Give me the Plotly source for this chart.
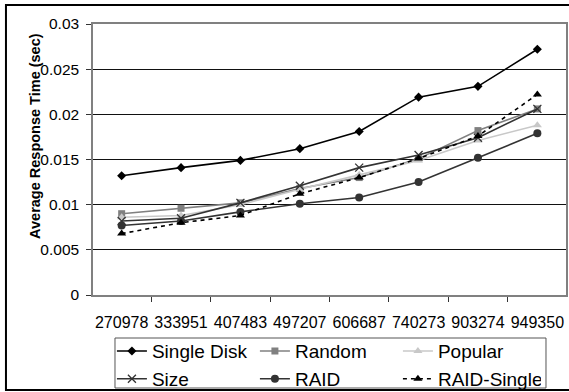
import plotly.graph_objects as go

categories = ["270978", "333951", "407483", "497207", "606687", "740273", "903274", "949350"]

single_disk = [0.0132, 0.0141, 0.0149, 0.0162, 0.0181, 0.0219, 0.0231, 0.0272]
random_vals = [0.0090, 0.0096, 0.0102, 0.0118, 0.0130, 0.0151, 0.0182, 0.0206]
popular = [0.0086, 0.0088, 0.0100, 0.0117, 0.0133, 0.0149, 0.0171, 0.0188]
size_vals = [0.0082, 0.0085, 0.0102, 0.0121, 0.0141, 0.0155, 0.0174, 0.0206]
raid = [0.0077, 0.0082, 0.0092, 0.0101, 0.0108, 0.0125, 0.0152, 0.0179]
raid_single = [0.0068, 0.0080, 0.0088, 0.0112, 0.0130, 0.0151, 0.0176, 0.0222]

y_ticks = [0, 0.005, 0.01, 0.015, 0.02, 0.025, 0.03]
y_tick_labels = ["0", "0.005", "0.01", "0.015", "0.02", "0.025", "0.03"]

FONT = "Liberation Sans, Arial, sans-serif"

fig = go.Figure()

def add(name, vals, color, symbol, msize, dash="solid", mline=None):
    marker = dict(symbol=symbol, size=msize, color=color)
    if mline:
        marker["line"] = mline
    fig.add_trace(go.Scatter(
        x=categories, y=vals, name=name, mode="lines+markers",
        line=dict(color=color, width=1.6, dash=dash),
        marker=marker,
    ))

add("Single Disk", single_disk, "#000000", "diamond", 7)
add("Random", random_vals, "#808080", "square", 7)
add("Popular", popular, "#c8c8c8", "triangle-up", 8)
add("Size", size_vals, "#333333", "x-thin-open", 8, mline=dict(width=1.3, color="#333333"))
add("RAID", raid, "#333333", "circle", 8)
add("RAID-Single", raid_single, "#000000", "triangle-up", 8, dash="4px,4px")

fig.update_layout(
    width=569, height=392,
    margin=dict(l=93, r=3, t=24, b=97, autoexpand=False),
    paper_bgcolor="white", plot_bgcolor="white",
    font=dict(family=FONT, color="black"),
    showlegend=True,
    legend=dict(
        orientation="h", x=0.04, xanchor="left", y=-0.137, yanchor="top",
        entrywidth=98, entrywidthmode="pixels",
        font=dict(size=19, family=FONT),
        borderwidth=0,
        bgcolor="rgba(0,0,0,0)",
        tracegroupgap=0,
    ),
    xaxis=dict(
        type="category", showgrid=False, tickson="boundaries",
        ticks="outside", ticklen=5, tickcolor="#333333",
        showline=True, linecolor="#808080", linewidth=1.5, mirror=True,
        tickfont=dict(size=16, family=FONT), ticklabelstandoff=12,
        tickangle=0, automargin=False,
    ),
    yaxis=dict(
        range=[0, 0.03], tickvals=y_ticks, ticktext=y_tick_labels,
        showgrid=True, gridcolor="#111111", gridwidth=1,
        ticks="outside", ticklen=5, tickcolor="#333333",
        showline=True, linecolor="#808080", linewidth=1.5, mirror=True,
        zeroline=False, automargin=False,
        tickfont=dict(size=15.5, family=FONT), ticklabelstandoff=4,
    ),
    annotations=[dict(
        text="<b>Average Response Time (sec)</b>", textangle=-90,
        xref="paper", yref="paper", x=-0.1226, y=0.587,
        xanchor="center", yanchor="middle", showarrow=False,
        font=dict(size=14.5, family=FONT),
    )],
    shapes=[
        dict(
            type="rect", xref="paper", yref="paper",
            x0=-0.184, x1=1.02, y0=-0.3506, y1=1.070,
            line=dict(color="black", width=2), fillcolor="rgba(0,0,0,0)",
            layer="below",
        ),
        dict(
            type="rect", xref="paper", yref="paper",
            x0=0.0465, x1=0.9577, y0=-0.3432, y1=-0.1587,
            line=dict(color="#555555", width=1), fillcolor="rgba(0,0,0,0)",
            layer="below",
        ),
    ],
)

fig.write_html("out.html")
